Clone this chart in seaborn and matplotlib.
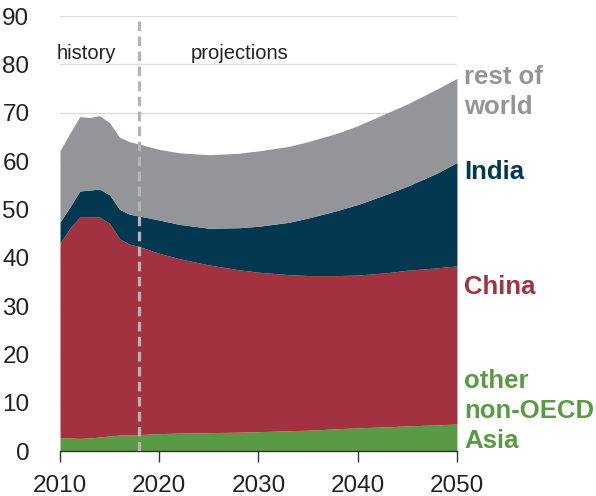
import seaborn as sns
import matplotlib.pyplot as plt
import pandas as pd

# data
years = [2010, 2011, 2012, 2013, 2014, 2015, 2016, 2017, 2018, 2020, 2022, 2025,
         2028, 2030, 2033, 2035, 2038, 2040, 2043, 2045, 2048, 2050]
other_asia = [2.8, 2.7, 2.6, 2.7, 2.9, 3.1, 3.3, 3.4, 3.4, 3.6, 3.7, 3.8,
              3.9, 4.0, 4.2, 4.3, 4.6, 4.8, 5.0, 5.2, 5.4, 5.6]
china = [40.2, 43.4, 45.8, 45.7, 45.5, 44.0, 40.6, 39.4, 38.9, 37.3, 36.1, 34.7,
         33.6, 33.0, 32.3, 32.0, 31.7, 31.6, 31.9, 32.2, 32.5, 32.7]
india = [4.4, 4.4, 5.4, 5.6, 5.8, 5.9, 6.1, 6.2, 6.3, 6.9, 7.1, 7.6,
         8.7, 9.5, 10.8, 11.9, 13.5, 14.6, 16.3, 17.4, 19.6, 21.4]
rest_of_world = [14.7, 15.3, 15.4, 15.0, 15.2, 14.9, 14.9, 15.0, 14.9, 14.6, 14.8, 15.2,
                 15.4, 15.6, 15.7, 15.8, 16.0, 16.3, 16.8, 17.0, 17.4, 17.4]

series = ["other\nnon-OECD\nAsia", "China", "India", "rest of\nworld"]
colors = ["#5b9a45", "#a33240", "#043850", "#939598"]
label_y = [8.3, 33.9, 57.7, 74.3]

df = pd.DataFrame({"year": years, series[0]: other_asia, series[1]: china,
                   series[2]: india, series[3]: rest_of_world})

sns.set_theme(style="white")
plt.rcParams["font.family"] = ["Liberation Sans", "DejaVu Sans"]

fig = plt.figure(figsize=(5.96, 4.96), dpi=100)
ax = fig.add_axes([0.1007, 0.0907, 0.666, 0.877])

ax.stackplot(df["year"], [df[s] for s in series], colors=colors, linewidth=0)

ax.set_xlim(2010, 2050)
ax.set_ylim(0, 90)
ax.set_xticks(range(2010, 2051, 10))
ax.set_yticks(range(0, 91, 10))
ax.yaxis.grid(True, color="#dcdcdc", linewidth=1)
ax.set_axisbelow(True)
ax.tick_params(axis="both", labelsize=17.5, colors="#222222")
ax.tick_params(axis="x", bottom=True, length=8, width=1, color="#333333", pad=9)
ax.tick_params(axis="y", left=False, pad=16)

sns.despine(ax=ax, left=True, top=True, right=True)
ax.spines["bottom"].set_color("#333333")
ax.spines["bottom"].set_linewidth(1)

# history / projections divider
ax.axvline(2018, color="#b4b4b8", linewidth=2.3, linestyle=(0, (3.0, 1.7)), zorder=5)
ax.text(2012.7, 82.2, "history", fontsize=14.5, ha="center", va="center", color="#222222")
ax.text(2028.1, 82.2, "projections", fontsize=14.5, ha="center", va="center", color="#222222")

# right-side labels
for s, c, y in zip(series, colors, label_y):
    ax.text(2050.75, y, s, color=c, fontsize=18.5, fontweight="bold", ha="left",
            va="center", linespacing=1.3, clip_on=False)

plt.savefig("out.png", dpi=100)
